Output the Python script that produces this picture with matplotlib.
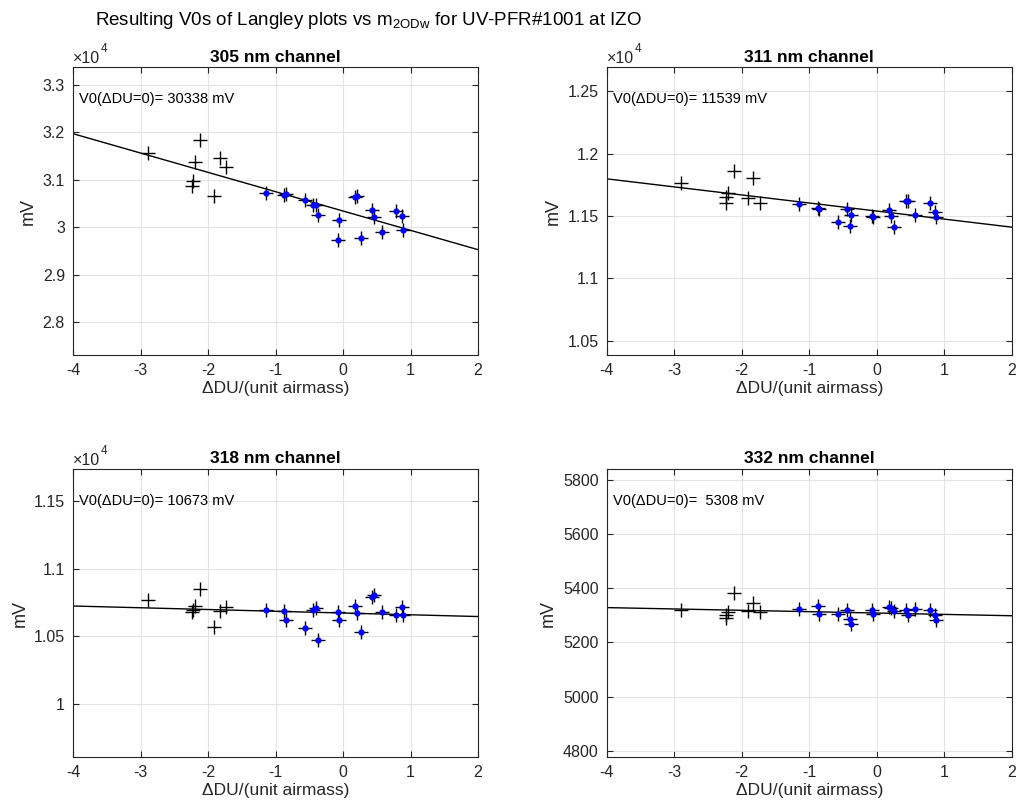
import matplotlib
matplotlib.use("Agg")
import matplotlib.pyplot as plt
from matplotlib.ticker import FuncFormatter, MultipleLocator
import numpy as np

plt.rcParams['font.family'] = ['Liberation Sans', 'DejaVu Sans']
plt.rcParams['axes.unicode_minus'] = False
plt.rcParams['mathtext.fontset'] = 'custom'
plt.rcParams['mathtext.rm'] = 'Liberation Sans'

# ozone deviation of each Langley (shared by all channels)
du_black = [-2.90, -2.12, -2.20, -2.23, -2.24, -1.83, -1.73, -1.91]
du_blue = [-1.15, -0.87, -0.85, -0.57, -0.44, -0.40, -0.38, -0.07, -0.06,
           0.18, 0.21, 0.26, 0.43, 0.46, 0.57, 0.79, 0.87, 0.88]

# resulting V0 (mV) for each channel
v0_black = {
    '305': [31556, 31828, 31374, 30977, 30870, 31450, 31276, 30660],
    '311': [11761, 11859, 11681, 11652, 11606, 11805, 11606, 11641],
    '318': [10770, 10852, 10728, 10696, 10678, 10690, 10720, 10567],
    '332': [5318, 5383, 5310, 5300, 5290, 5345, 5312, 5315],
}
v0_blue = {
    '305': [30711, 30680, 30700, 30570, 30475, 30475, 30245, 29720, 30155,
            30640, 30660, 29764, 30370, 30210, 29895, 30335, 30224, 29945],
    '311': [11593, 11566, 11553, 11452, 11553, 11420, 11506, 11500, 11495,
            11545, 11500, 11415, 11620, 11620, 11505, 11600, 11530, 11490],
    '318': [10696, 10690, 10622, 10562, 10696, 10711, 10470, 10678, 10624,
            10728, 10673, 10530, 10794, 10807, 10678, 10661, 10715, 10661],
    '332': [5324, 5334, 5303, 5305, 5321, 5287, 5269, 5319, 5303,
            5330, 5328, 5315, 5319, 5300, 5324, 5321, 5300, 5282],
}

channels = ['305', '311', '318', '332']
v0_fit = [30338, 11539, 10673, 5308]
slope_fit = [-407, -64.5, -13, -5]
ytick_step = [1000, 500, 500, 200]
yscale = [1e4, 1e4, 1e4, 1]

fig = plt.figure(figsize=(10.17, 8.08), dpi=100)
positions = [[0.0721, 0.5606, 0.398, 0.3564], [0.5967, 0.5606, 0.398, 0.3564],
             [0.0721, 0.0631, 0.398, 0.3564], [0.5967, 0.0631, 0.398, 0.3564]]

txt = '#262626'
for i, ch in enumerate(channels):
    ax = fig.add_axes(positions[i])
    xx = np.array([-4, 2])
    ax.plot(xx, v0_fit[i] + slope_fit[i] * xx, color='k', lw=1.0, zorder=2)
    ax.plot(du_black, v0_black[ch], '+', color='k', ms=10, mew=1.0, zorder=3)
    ax.plot(du_blue, v0_blue[ch], '+', color='k', ms=10, mew=1.0, zorder=3)
    ax.plot(du_blue, v0_blue[ch], 'o', color='b', ms=4.5, mew=0, zorder=4)

    ax.set_xlim(-4, 2)
    ax.set_ylim(v0_fit[i] * 0.9, v0_fit[i] * 1.1)
    ax.xaxis.set_major_locator(MultipleLocator(1))
    ax.yaxis.set_major_locator(MultipleLocator(ytick_step[i]))
    sc = yscale[i]
    if sc != 1:
        ax.yaxis.set_major_formatter(FuncFormatter(lambda v, p, sc=sc: '%g' % round(v / sc, 4)))
        ax.text(0.0, 1.004, '×10', transform=ax.transAxes, fontsize=11.5,
                color=txt, ha='left', va='bottom')
        ax.annotate('4', xy=(0.0, 1.004), xycoords='axes fraction', xytext=(20, 8),
                    textcoords='offset points', fontsize=8.5, color=txt,
                    ha='left', va='bottom')
    else:
        ax.yaxis.set_major_formatter(FuncFormatter(lambda v, p: '%d' % v))

    ax.grid(True, color='#e3e3e3', lw=0.8)
    ax.set_axisbelow(True)
    ax.tick_params(direction='in', top=True, right=True, length=4, width=0.8,
                   labelsize=11.5, colors=txt, pad=6)
    for s in ax.spines.values():
        s.set_color('#262626')
        s.set_linewidth(0.8)

    ax.set_title('%s nm channel' % ch, fontsize=12.5, fontweight='bold', pad=4)
    ax.set_xlabel('ΔDU/(unit airmass)', fontsize=12.5, color=txt, labelpad=2)
    ax.set_ylabel('mV', fontsize=13, color=txt, labelpad=4)
    ax.text(0.015, 0.89, 'V0(ΔDU=0)= %5.0f mV' % v0_fit[i] if v0_fit[i] >= 10000
            else 'V0(ΔDU=0)=  %d mV' % v0_fit[i],
            transform=ax.transAxes, fontsize=10.5, ha='left', va='center')

fig.text(0.093, 0.975, r'Resulting V0s of Langley plots vs m$_{\mathregular{2ODw}}$ for UV-PFR#1001 at IZO',
         fontsize=13.5, ha='left', va='center')

fig.savefig('out.png', dpi=100)
